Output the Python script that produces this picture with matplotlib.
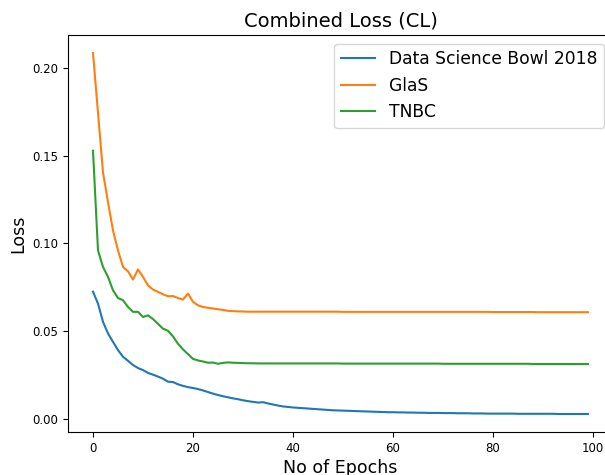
import matplotlib
matplotlib.use("Agg")
import matplotlib.pyplot as plt

# loss values per epoch
dsb_2018 = [
    0.0725, 0.0657, 0.0553, 0.0487, 0.0439, 0.0392, 0.0354, 0.0331, 0.0307, 0.0290,
    0.0278, 0.0262, 0.0252, 0.0241, 0.0229, 0.0212, 0.0210, 0.0197, 0.0188, 0.0181,
    0.0176, 0.0170, 0.0162, 0.0153, 0.0144, 0.0136, 0.0129, 0.0123, 0.0117, 0.0112,
    0.0106, 0.0101, 0.0097, 0.0093, 0.0095, 0.0088, 0.0082, 0.0076, 0.0071, 0.0068,
    0.0065, 0.0063, 0.0061, 0.0059, 0.0057, 0.0055, 0.0053, 0.0051, 0.0049, 0.0048,
    0.0047, 0.0046, 0.0045, 0.0044, 0.0043, 0.0042, 0.0041, 0.0040, 0.0039, 0.0038,
    0.0038, 0.0037, 0.0037, 0.0036, 0.0036, 0.0035, 0.0035, 0.0034, 0.0034, 0.0034,
    0.0033, 0.0033, 0.0033, 0.0032, 0.0032, 0.0032, 0.0031, 0.0031, 0.0031, 0.0030,
    0.0030, 0.0030, 0.0030, 0.0030, 0.0030, 0.0029, 0.0029, 0.0029, 0.0029, 0.0029,
    0.0029, 0.0029, 0.0029, 0.0028, 0.0028, 0.0028, 0.0028, 0.0028, 0.0028, 0.0028,
]
glas = [
    0.2085, 0.1745, 0.1405, 0.1235, 0.1074, 0.0960, 0.0866, 0.0841, 0.0794, 0.0852,
    0.0809, 0.0761, 0.0737, 0.0724, 0.0710, 0.0699, 0.0700, 0.0689, 0.0680, 0.0714,
    0.0667, 0.0647, 0.0638, 0.0633, 0.0629, 0.0625, 0.0621, 0.0616, 0.0614, 0.0613,
    0.0612, 0.0611, 0.0611, 0.0611, 0.0611, 0.0611, 0.0611, 0.0611, 0.0611, 0.0611,
    0.0611, 0.0611, 0.0611, 0.0611, 0.0611, 0.0611, 0.0611, 0.0611, 0.0611, 0.0611,
    0.0610, 0.0610, 0.0610, 0.0610, 0.0610, 0.0610, 0.0610, 0.0610, 0.0610, 0.0610,
    0.0610, 0.0610, 0.0610, 0.0610, 0.0610, 0.0610, 0.0610, 0.0610, 0.0610, 0.0610,
    0.0610, 0.0610, 0.0610, 0.0610, 0.0610, 0.0610, 0.0610, 0.0610, 0.0610, 0.0610,
    0.0609, 0.0609, 0.0609, 0.0609, 0.0609, 0.0609, 0.0609, 0.0609, 0.0609, 0.0608,
    0.0608, 0.0608, 0.0608, 0.0608, 0.0608, 0.0608, 0.0608, 0.0608, 0.0608, 0.0608,
]
tnbc = [
    0.1528, 0.0960, 0.0866, 0.0809, 0.0733, 0.0689, 0.0676, 0.0638, 0.0610, 0.0610,
    0.0581, 0.0590, 0.0569, 0.0542, 0.0514, 0.0502, 0.0470, 0.0428, 0.0396, 0.0369,
    0.0342, 0.0333, 0.0327, 0.0320, 0.0321, 0.0314, 0.0319, 0.0322, 0.0320, 0.0319,
    0.0318, 0.0317, 0.0317, 0.0316, 0.0316, 0.0316, 0.0316, 0.0316, 0.0316, 0.0316,
    0.0316, 0.0316, 0.0316, 0.0316, 0.0316, 0.0316, 0.0316, 0.0316, 0.0316, 0.0316,
    0.0315, 0.0315, 0.0315, 0.0315, 0.0315, 0.0315, 0.0315, 0.0315, 0.0315, 0.0315,
    0.0315, 0.0315, 0.0315, 0.0315, 0.0315, 0.0315, 0.0315, 0.0315, 0.0315, 0.0315,
    0.0314, 0.0314, 0.0314, 0.0314, 0.0314, 0.0314, 0.0314, 0.0314, 0.0314, 0.0314,
    0.0314, 0.0314, 0.0314, 0.0314, 0.0314, 0.0314, 0.0314, 0.0314, 0.0313, 0.0313,
    0.0313, 0.0313, 0.0313, 0.0313, 0.0313, 0.0313, 0.0313, 0.0313, 0.0313, 0.0313,
]
series_names = ["Data Science Bowl 2018", "GlaS", "TNBC"]
epochs = list(range(len(dsb_2018)))

fig = plt.figure(figsize=(6.05, 4.75), dpi=100)
# axes run past the right edge of the picture, like the cropped original
ax = fig.add_axes([0.1128, 0.0905, 0.900, 0.8358])

for name, values in zip(series_names, [dsb_2018, glas, tnbc]):
    ax.plot(epochs, values, label=name, linewidth=1.5)

ax.set_title("Combined Loss (CL)", fontsize=14)
ax.set_xlabel("No of Epochs", fontsize=12.5, labelpad=3)
ax.set_ylabel("Loss", fontsize=12.5)
ax.tick_params(labelsize=8.5)
ax.legend(fontsize=12.3, loc="upper right")

fig.savefig("out.png", dpi=100)
